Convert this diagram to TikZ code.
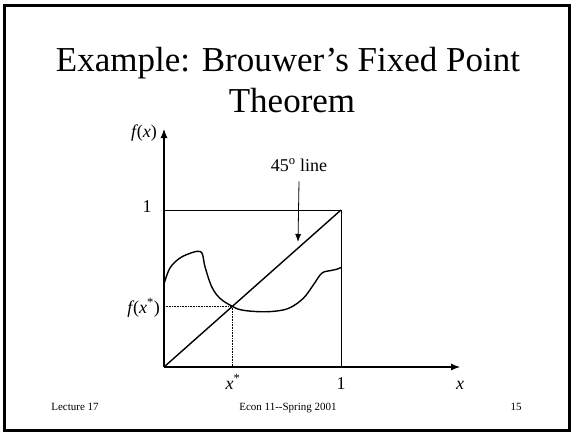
\documentclass[tikz,border=0pt]{standalone}
\usepackage{fontspec}
\setmainfont{Liberation Serif}
\usetikzlibrary{arrows,arrows.meta,calc}
\tikzstyle{axis} = [draw,line width=1.1pt,-{Latex[length=9pt,width=7pt]}]
\tikzstyle{graph} = [draw,line width=1.4pt]
\tikzstyle{guide} = [draw,densely dotted,line width=0.6pt]
\tikzstyle{pointer} = [draw,line width=0.8pt,-{Latex[length=8pt,width=6pt]}]
\tikzstyle{lbl} = [font=\fontsize{18}{20}\selectfont,inner sep=0pt]
\tikzstyle{head} = [font=\fontsize{35}{38}\selectfont,inner sep=0pt,anchor=base]
\tikzstyle{foot} = [font=\fontsize{11}{12}\selectfont,inner sep=0pt,anchor=base]

\begin{document}
\begin{tikzpicture}[x=1pt,y=-1pt]
    \useasboundingbox (0,0) rectangle (572,433);
    \draw[line width=2.6pt] (4.5,5.5) rectangle (569.5,430.5);
    % title
    \node[head] (title1) at (288,72) {Example: Brouwer's Fixed Point};
    \node[head] (title2) at (292,113) {Theorem};
    % axes, unit box and diagonal
    \coordinate (O) at (164,367);
    \coordinate (C) at (341,210);
    \coordinate (ytip) at (164,129);
    \coordinate (xtip) at (460,367);
    \draw[axis] (O) -- (ytip);
    \draw[axis] (O) -- (xtip);
    \draw[line width=0.8pt] (O |- C) -- (C) -- (C |- O);
    \draw[graph] (O) -- (C);
    \coordinate (star) at ($(O)!0.384!(C)$);
    \draw[guide] (O |- star) -- (star) -- (star |- O);
    % f(x)
    \draw[graph] plot[smooth,tension=0.6] coordinates {
      (164.3,283) (170,268) (180,258) (193,252.3) (200,251.5) (202.7,255)
      (205,266.7) (211.7,286.7) (220,298.3) (231.7,306) (241.7,310)
      (260,311.7) (276.7,311) (290,307.7) (303.3,298.3) (313.3,285)
      (321.7,273.3) (330,270.7) (336.7,269.3) (341.5,267.3)};
    % labels
    \node[lbl,anchor=base] (fx) at (144,137) {\textit{f}\kern-1.5pt(\textit{x})};
    \node[lbl,anchor=base] (one y) at (147,212) {1};
    \node[lbl,anchor=base east] (fxstar) at (160,313) {\textit{f}\kern-1.5pt(\textit{x}\textsuperscript{*})};
    \node[lbl,anchor=base] (xstar) at (233,389) {\textit{x}\textsuperscript{*}};
    \node[lbl,anchor=base] (one x) at (341,389) {1};
    \node[lbl,anchor=base] (x) at (460,389) {\textit{x}};
    \node[lbl,anchor=base] (line45) at (299,171) {45\textsuperscript{o} line};
    \coordinate (hit) at (298,242);
    \draw[pointer] ([yshift=-10pt]line45.south) -- (hit);
    % footer
    \node[foot] (lecture) at (75,410) {Lecture 17};
    \node[foot] (course) at (288,410) {Econ 11-{}-Spring 2001};
    \node[foot] (page) at (516,410) {15};
\end{tikzpicture}
\end{document}
